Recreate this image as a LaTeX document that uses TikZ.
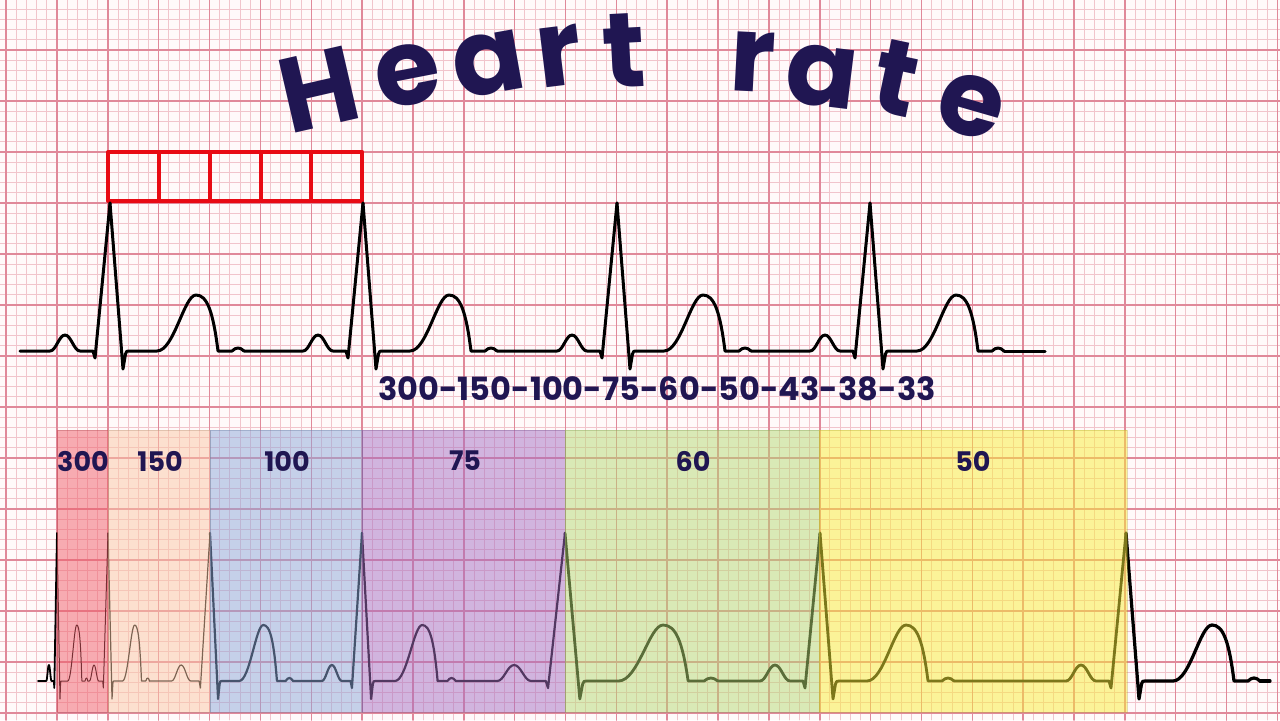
\documentclass[tikz,border=0pt]{standalone}
\usepackage{fontspec}
\setmainfont{Poppins}
\definecolor{ink}{RGB}{32,22,82}
\definecolor{paper}{RGB}{255,249,250}
\definecolor{gridminor}{RGB}{241,196,204}
\definecolor{gridmajor}{RGB}{224,136,154}
\definecolor{boxred}{RGB}{232,10,20}
\definecolor{bandred}{RGB}{240,95,105}
\definecolor{bandpeach}{RGB}{250,200,165}
\definecolor{bandblue}{RGB}{140,168,218}
\definecolor{bandpurple}{RGB}{165,112,195}
\definecolor{bandgreen}{RGB}{180,218,115}
\definecolor{bandyellow}{RGB}{248,238,55}

% R peak at #1, S-T-U with horizontal scale #2, baseline #3, style #4
\newcommand\ecgtail[4]{%
 \draw[#4] ({#1},{#3-148}) -- ({#1+13*#2},{#3+18}) -- ({#1+15.5*#2},{#3+3})
   .. controls ({#1+16.5*#2},{#3}) .. ({#1+19*#2},{#3})
   -- ({#1+47*#2},{#3}) .. controls ({#1+64*#2},{#3}) and ({#1+74*#2},{#3-56}) .. ({#1+86*#2},{#3-56})
   .. controls ({#1+97*#2},{#3-56}) and ({#1+103*#2},{#3-40}) .. ({#1+108*#2},{#3})
   -- ({#1+122*#2},{#3}) .. controls ({#1+126*#2},{#3-4}) and ({#1+130*#2},{#3-4}) .. ({#1+134*#2},{#3});}
% baseline from #1 to P wave and q, up to R at #2, scale #3, baseline #4, style #5
\newcommand\ecglead[5]{%
 \draw[#5] ({#1},{#4}) -- ({#2-60*#3},{#4})
   .. controls ({#2-54*#3},{#4}) and ({#2-51*#3},{#4-16}) .. ({#2-45*#3},{#4-16})
   .. controls ({#2-39*#3},{#4-16}) and ({#2-36*#3},{#4}) .. ({#2-30*#3},{#4})
   -- ({#2-17*#3},{#4}) -- ({#2-15*#3},{#4+7}) -- ({#2},{#4-148});}
% full beat R(#1) to R(#2), scales #3 #4, baseline #5, style #6
\newcommand\ecgbeat[6]{%
 \ecgtail{#1}{#3}{#5}{#6}%
 \ecglead{#1+134*#3}{#2}{#4}{#5}{#6}}

\begin{document}
\begin{tikzpicture}[x=0.5pt,y=-0.5pt,line join=round,line cap=round,
  minorline/.style={gridminor,line width=0.45pt},
  majorline/.style={gridmajor,line width=0.75pt},
  ecgtop/.style={black,line width=1.5pt},
  redbox/.style={draw=boxred,line width=2pt},
  band/.style={fill opacity=0.5,draw opacity=0.35,line width=0.5pt},
  titlechar/.style={anchor=base,text=ink,inner sep=0pt,font=\bfseries\fontsize{53}{58}\selectfont},
  ratelabel/.style={text=ink,inner sep=0pt,font=\bfseries\fontsize{16}{19}\selectfont},
  bandlabel/.style={text=ink,inner sep=0pt,font=\bfseries\fontsize{13.5}{16}\selectfont}]
\useasboundingbox (0,0) rectangle (1280,720);
\fill[paper] (0,0) rectangle (1280,720);
% grid
\foreach \i in {0,...,127} \draw[minorline] ({-4.02+\i*10.17},0) -- ({-4.02+\i*10.17},720);
\foreach \i in {0,...,71} \draw[minorline] (0,{-1+\i*10.2}) -- (1280,{-1+\i*10.2});
\foreach \i in {0,...,25} \draw[majorline] ({6.15+\i*50.85},0) -- ({6.15+\i*50.85},720);
\foreach \i in {0,...,14} \draw[majorline] (0,{-1+\i*51}) -- (1280,{-1+\i*51});

% title
\node[titlechar,rotate=13] (tH) at (327,126) {H};
\node[titlechar,rotate=11] (te1) at (414,104) {e};
\node[titlechar,rotate=10] (ta1) at (494,93) {a};
\node[titlechar,rotate=7] (tr1) at (563,86) {r};
\node[titlechar,rotate=3] (tt1) at (626,87) {t};
\node[titlechar,rotate=-3] (tr2) at (751,92) {r};
\node[titlechar,rotate=-7] (ta2) at (818,106) {a};
\node[titlechar,rotate=-12] (tt2) at (889,114) {t};
\node[titlechar,rotate=-16] (te2) at (963,134) {e};

% red boxes
\foreach \k in {0,...,4} \draw[redbox] ({108+\k*50.85},152) rectangle ({108+(\k+1)*50.85},201);

% top ECG
\ecglead{20}{110}{1}{351}{ecgtop}
\ecgbeat{110}{363}{1}{1}{351}{ecgtop}
\ecgbeat{363}{617}{1}{1}{351}{ecgtop}
\ecgbeat{617}{870}{1}{1}{351}{ecgtop}
\ecgtail{870}{1}{351}{ecgtop}
\draw[ecgtop] (1004,351) -- (1045,351);

\node[ratelabel] (rates) at (657,389) {300-150-100-75-60-50-43-38-33};

% bottom ECG
\ecglead{38}{57}{0.18}{681}{black,line width=0.9pt}
\ecgbeat{57}{108}{0.23}{0.31}{681}{black,line width=0.5pt}
\ecgbeat{108}{210}{0.31}{0.64}{681}{black,line width=0.6pt}
\ecgbeat{210}{362}{0.62}{0.67}{681}{black,line width=1.1pt}
\ecgbeat{362}{565}{0.7}{1.13}{681}{black,line width=1.1pt}
\ecgbeat{565}{820}{1.14}{1}{681}{black,line width=1.4pt}
\ecgbeat{820}{1126}{1}{1}{681}{black,line width=1.4pt}
\ecgtail{1126}{1}{681}{black,line width=1.6pt}
\draw[black,line width=1.6pt] (1260,681) -- (1270,681);

% coloured bands
\filldraw[band,fill=bandred,draw=bandred!70!black] (57,430) rectangle (108,712);
\filldraw[band,fill=bandpeach,draw=bandpeach!70!black] (108,430) rectangle (210,712);
\filldraw[band,fill=bandblue,draw=bandblue!70!black] (210,430) rectangle (362,712);
\filldraw[band,fill=bandpurple,draw=bandpurple!70!black] (362,430) rectangle (565,712);
\filldraw[band,fill=bandgreen,draw=bandgreen!70!black] (565,430) rectangle (819,712);
\filldraw[band,fill=bandyellow,draw=bandyellow!70!black] (819,430) rectangle (1127,712);

\node[bandlabel] (l300) at (83,461) {300};
\node[bandlabel] (l150) at (160,461) {150};
\node[bandlabel] (l100) at (287,461) {100};
\node[bandlabel] (l75) at (465,461) {75};
\node[bandlabel] (l60) at (693,461) {60};
\node[bandlabel] (l50) at (973,461) {50};
\end{tikzpicture}
\end{document}
